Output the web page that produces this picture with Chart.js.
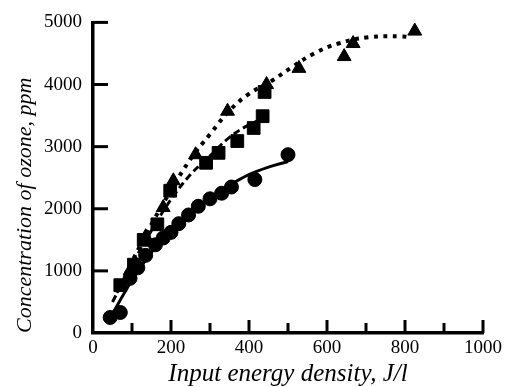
<!DOCTYPE html>
<html>
<head>
<meta charset="utf-8">
<script src="https://cdn.jsdelivr.net/npm/chart.js@4/dist/chart.umd.min.js"></script>
<style>
  html, body { margin: 0; padding: 0; background: #fff; }
  #wrap { width: 506px; height: 387px; }
</style>
</head>
<body>
<div id="wrap"><canvas id="chart" width="506" height="387"></canvas></div>
<script>
// measured points (circles, squares, triangles)
const circleX = [44, 70, 95, 115, 135, 160, 180, 200, 220, 245, 270, 300, 330, 355, 415, 500];
const circleY = [250, 330, 880, 1050, 1250, 1420, 1530, 1620, 1760, 1900, 2040, 2160, 2250, 2350, 2470, 2870];

const squareX = [70, 105, 130, 165, 198, 290, 322, 370, 412, 435, 440];
const squareY = [770, 1100, 1500, 1750, 2290, 2740, 2900, 3090, 3300, 3490, 3880];

const triangleX = [95, 135, 180, 206, 263, 345, 445, 528, 644, 667, 825];
const triangleY = [1000, 1550, 2020, 2450, 2870, 3570, 4000, 4260, 4450, 4660, 4860];

// fitted curves
const circleFitX = [40, 100, 150, 200, 250, 300, 350, 400, 450, 500];
const circleFitY = [200, 850, 1300, 1650, 1950, 2180, 2380, 2550, 2670, 2760];

const squareFitX = [50, 100, 150, 200, 250, 300, 350, 400, 450];
const squareFitY = [500, 1100, 1650, 2150, 2550, 2850, 3150, 3350, 3480];

const triangleFitX = [60, 100, 150, 200, 250, 300, 350, 400, 456, 508, 567, 629, 706, 791, 817];
const triangleFitY = [650, 1150, 1750, 2300, 2800, 3200, 3580, 3850, 4050, 4270, 4500, 4660, 4760, 4775, 4760];

const xTickValues = [100, 200, 300, 400, 500, 600, 700, 800, 900, 1000];
const yTickValues = [1000, 2000, 3000, 4000, 5000];

const pts = (xs, ys) => xs.map((x, i) => ({ x: x, y: ys[i] }));

// ticks point inwards, minor ticks shorter
const inwardTicks = {
    id: 'inwardTicks',
    afterDatasetsDraw(chart) {
        const { ctx, scales: { x, y } } = chart;
        ctx.save();
        ctx.strokeStyle = '#000';
        ctx.lineCap = 'butt';
        ctx.lineWidth = 3;
        const base = y.getPixelForValue(0);
        xTickValues.forEach(v => {
            const px = x.getPixelForValue(v);
            const len = v % 200 === 0 ? 13 : 10;
            ctx.beginPath();
            ctx.moveTo(px, base);
            ctx.lineTo(px, base - len);
            ctx.stroke();
        });
        const left = x.getPixelForValue(0);
        yTickValues.forEach(v => {
            const py = y.getPixelForValue(v);
            ctx.beginPath();
            ctx.moveTo(left, py);
            ctx.lineTo(left + 15, py);
            ctx.stroke();
        });
        ctx.restore();
    }
};

const serif = "'Liberation Serif', 'DejaVu Serif', serif";

new Chart(document.getElementById('chart'), {
    type: 'scatter',
    data: {
        datasets: [
            {
                type: 'line',
                data: pts(circleFitX, circleFitY),
                borderColor: '#000',
                borderWidth: 3,
                pointRadius: 0,
                tension: 0.4,
                fill: false
            },
            {
                type: 'line',
                data: pts(squareFitX, squareFitY),
                borderColor: '#000',
                borderWidth: 3,
                borderDash: [7, 4],
                pointRadius: 0,
                tension: 0.4,
                fill: false
            },
            {
                type: 'line',
                data: pts(triangleFitX, triangleFitY),
                borderColor: '#000',
                borderWidth: 4,
                borderDash: [4, 5.5],
                pointRadius: 0,
                tension: 0.4,
                fill: false
            },
            {
                data: pts(circleX, circleY),
                pointStyle: 'circle',
                pointRadius: 7,
                backgroundColor: '#000',
                borderColor: '#000'
            },
            {
                data: pts(squareX, squareY),
                pointStyle: 'rect',
                pointRadius: 9,
                backgroundColor: '#000',
                borderColor: '#000'
            },
            {
                data: pts(triangleX, triangleY),
                pointStyle: 'triangle',
                pointRadius: 8,
                backgroundColor: '#000',
                borderColor: '#000'
            }
        ]
    },
    options: {
        responsive: false,
        animation: false,
        layout: { padding: { top: 12, right: 20, left: 0, bottom: 0 } },
        plugins: {
            legend: { display: false },
            tooltip: { enabled: false }
        },
        scales: {
            x: {
                type: 'linear',
                min: 0,
                max: 1000,
                grid: { display: false, drawTicks: false },
                border: { display: true, color: '#000', width: 3.5 },
                ticks: {
                    stepSize: 200,
                    color: '#000',
                    padding: 4,
                    maxRotation: 0,
                    callback: v => String(v),
                    font: { family: serif, size: 19 }
                },
                title: {
                    display: true,
                    text: 'Input energy density, J/l',
                    color: '#000',
                    padding: { top: 0, bottom: 0 },
                    font: { family: serif, size: 25, style: 'italic', lineHeight: 1.0 }
                },
                afterFit(scale) { scale.height = 54; }
            },
            y: {
                type: 'linear',
                min: 0,
                max: 5000,
                grid: { display: false, drawTicks: false },
                border: { display: true, color: '#000', width: 3.5 },
                ticks: {
                    stepSize: 1000,
                    color: '#000',
                    padding: 11,
                    callback: v => String(v),
                    font: { family: serif, size: 19 }
                },
                title: {
                    display: true,
                    text: 'Concentration of ozone, ppm',
                    color: '#000',
                    align: 'start',
                    padding: { top: 12, bottom: 0 },
                    font: { family: serif, size: 22, style: 'italic' }
                },
                afterFit(scale) { scale.width = 93; }
            }
        }
    },
    plugins: [inwardTicks]
});
</script>
</body>
</html>
